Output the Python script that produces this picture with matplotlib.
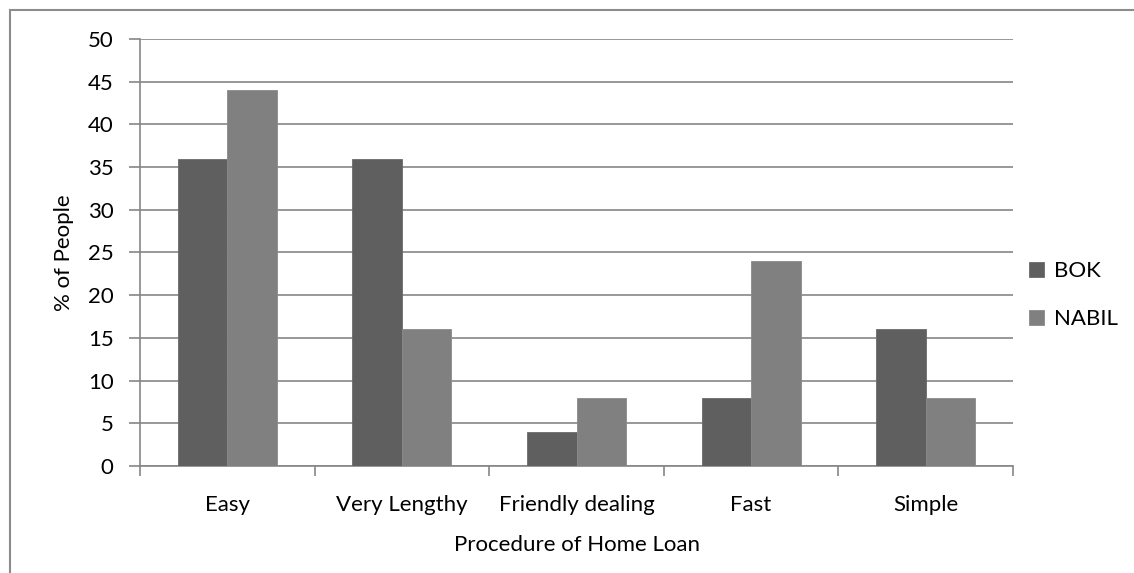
import numpy as np
from matplotlib import pyplot as plt
from matplotlib.patches import Rectangle

# survey data: procedure of home loan, % of people
categories = ["Easy", "Very Lengthy", "Friendly dealing", "Fast", "Simple"]
bok = [36, 36, 4, 8, 16]
nabil = [44, 16, 8, 24, 8]
yticks = list(range(0, 55, 5))

plt.rcParams['font.family'] = ['Lato', 'DejaVu Sans']
grid_col = "#868686"
fs = 16

fig = plt.figure(figsize=(11.34, 5.73), dpi=100)
ax = fig.add_axes([140/1134, 1-466/573, 873/1134, 427/573])

x = np.arange(len(categories))
w = 0.2835
ax.bar(x - w/2, bok, w, color="#5f5f5f", edgecolor="#6a6a6a", linewidth=0.6, label="BOK", zorder=3)
ax.bar(x + w/2, nabil, w, color="#808080", edgecolor="#8a8a8a", linewidth=0.6, label="NABIL", zorder=3)

ax.set_xlim(-0.5, len(categories) - 0.5)
ax.set_ylim(0, 50)
ax.set_yticks(yticks)
ax.yaxis.grid(True, color=grid_col, linewidth=1.2, zorder=0)
ax.tick_params(axis='y', length=8, width=1.2, color=grid_col, pad=11, labelsize=fs)

ax.set_xticks(x)
ax.set_xticklabels(categories)
ax.set_xticks(np.arange(len(categories) + 1) - 0.5, minor=True)
ax.tick_params(axis='x', which='major', length=0, pad=21, labelsize=fs)
ax.tick_params(axis='x', which='minor', length=7, width=1.2, color=grid_col)

for s in ["top", "right"]:
    ax.spines[s].set_visible(False)
for s in ["left", "bottom"]:
    ax.spines[s].set_color(grid_col)
    ax.spines[s].set_linewidth(1.2)

ax.set_ylabel("% of People", fontsize=fs, labelpad=10)
ax.set_xlabel("Procedure of Home Loan", fontsize=fs, labelpad=14)

ax.legend(loc="center left", bbox_to_anchor=(0.995, 0.4), frameon=False,
          fontsize=fs, handlelength=0.7, handleheight=0.7, labelspacing=1.25,
          handletextpad=0.45)

# outer chart border
fig.patches.append(Rectangle((10/1134, -0.5), 1.2, 1.5 - 10/573, transform=fig.transFigure,
                             fill=False, edgecolor="#8c8c8c", linewidth=1.5))

fig.savefig("out.png", dpi=100)
